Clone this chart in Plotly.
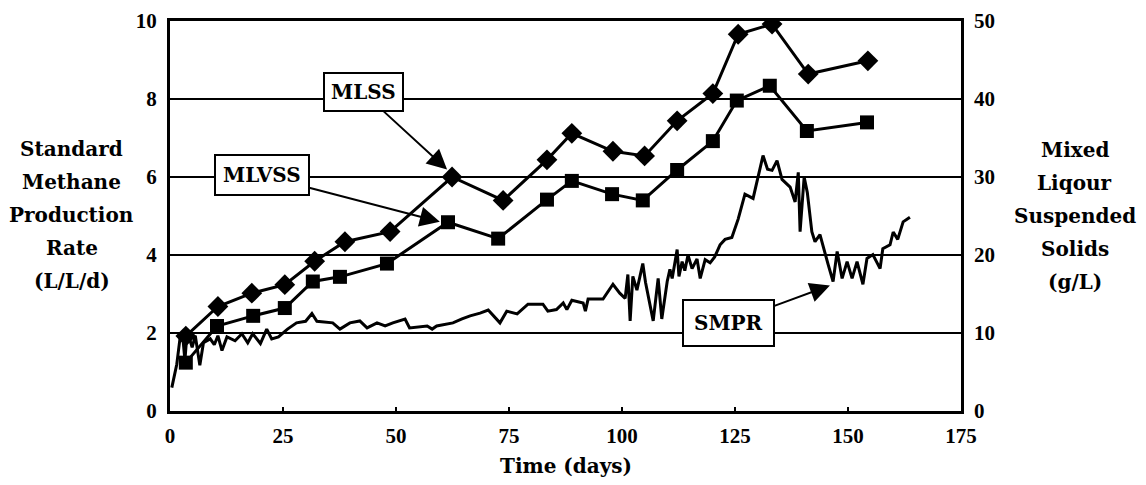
import plotly.graph_objects as go

# ---- data ----
mlss_days = [3.5, 10.6, 18.1, 25.4, 32.0, 38.7, 48.7, 62.4, 73.7, 83.4, 88.9, 98.0, 105.0, 112.2, 120.1, 125.7, 133.2, 141.2, 154.4]
mlss_gl = [9.6, 13.4, 15.1, 16.2, 19.2, 21.7, 23.0, 30.0, 27.0, 32.2, 35.6, 33.3, 32.7, 37.2, 40.7, 48.3, 49.6, 43.2, 44.9]

mlvss_days = [3.5, 10.4, 18.4, 25.4, 31.6, 37.6, 48.0, 61.5, 72.6, 83.4, 88.9, 97.8, 104.6, 112.2, 120.1, 125.4, 132.7, 140.9, 154.2]
mlvss_gl = [6.2, 10.9, 12.2, 13.2, 16.6, 17.2, 18.9, 24.2, 22.1, 27.1, 29.5, 27.8, 27.0, 30.9, 34.6, 39.8, 41.7, 35.9, 37.0]

smpr_days = [0.4, 1.5, 2.2, 2.8, 3.3, 3.8, 4.9, 5.6, 6.6, 7.4, 8.9, 9.8, 10.6, 11.5, 12.6, 14.4,
             15.9, 17.2, 18.3, 20.0, 21.4, 22.5, 24.0, 26.0, 28.0, 30.0, 31.4, 32.5, 36.0, 37.6,
             39.8, 42.0, 43.6, 45.8, 47.6, 49.3, 52.0, 53.0, 56.9, 58.0, 59.0, 62.6, 64.6, 66.4,
             68.6, 70.4, 73.0, 74.5, 76.8, 79.2, 82.5, 83.6, 85.5, 87.0, 87.8, 88.9, 91.4, 91.9,
             92.5, 95.8, 98.0, 99.5, 100.7, 101.3, 101.8, 102.4, 103.3, 104.6, 105.2, 106.9, 108.0,
             108.8, 110.0, 110.6, 111.1, 111.7, 112.2, 112.6, 113.3, 113.9, 114.6, 115.5, 116.6,
             117.3, 118.4, 119.5, 120.5, 121.7, 122.8, 124.3, 125.7, 127.2, 129.0, 131.2, 132.2,
             133.2, 134.3, 135.4, 137.2, 138.3, 139.0, 139.4, 140.3, 141.0, 142.0, 142.7, 143.8,
             145.6, 146.7, 147.6, 148.7, 149.8, 150.9, 152.0, 153.3, 154.2, 155.5, 157.1, 157.7,
             159.3, 160.0, 161.0, 162.2, 163.7]
smpr_vals = [0.6, 1.2, 1.85, 1.93, 1.3, 2.05, 1.63, 1.93, 1.17, 1.75, 1.85, 1.7, 1.93, 1.55, 1.9, 1.8,
             1.98, 1.75, 1.98, 1.73, 2.1, 1.85, 1.9, 2.1, 2.26, 2.3, 2.5, 2.3, 2.26, 2.1,
             2.26, 2.31, 2.13, 2.26, 2.18, 2.26, 2.36, 2.13, 2.18, 2.1, 2.18, 2.26, 2.36, 2.44,
             2.51, 2.59, 2.26, 2.56, 2.49, 2.74, 2.74, 2.56, 2.6, 2.77, 2.6, 2.84, 2.77, 2.56,
             2.87, 2.87, 3.25, 3.02, 2.89, 3.5, 2.31, 3.45, 3.1, 3.78, 3.3, 2.31, 3.4,
             2.36, 3.32, 3.63, 3.4, 3.78, 4.14, 3.45, 3.83, 3.6, 4.0, 3.65, 3.9,
             3.4, 3.88, 3.8, 3.95, 4.26, 4.4, 4.45, 4.92, 5.56, 5.45, 6.55, 6.2,
             6.17, 6.42, 5.94, 5.74, 5.36, 6.12, 4.6, 6.0, 5.6, 4.6, 4.34, 4.52,
             3.76, 3.32, 4.09, 3.4, 3.83, 3.4, 3.83, 3.25, 3.91, 4.01, 3.65, 4.16,
             4.26, 4.59, 4.4, 4.85, 4.97]

x_ticks = [0, 25, 50, 75, 100, 125, 150, 175]
y_left_ticks = [0, 2, 4, 6, 8, 10]
y_right_ticks = [0, 10, 20, 30, 40, 50]

left_title_lines = ["Standard", "Methane", "Production", "Rate", "(L/L/d)"]
right_title_lines = ["Mixed", "Liqour", "Suspended", "Solids", "(g/L)"]
x_title = "Time (days)"

TITLE_FONT = dict(family="DejaVu Serif", size=20, color="black", weight="bold")
TICK_FONT = dict(family="Liberation Serif", size=21, color="black", weight="bold")

fig = go.Figure()
fig.add_trace(go.Scatter(x=smpr_days, y=smpr_vals, mode="lines",
                         line=dict(color="black", width=3), yaxis="y", showlegend=False))
fig.add_trace(go.Scatter(x=mlss_days, y=mlss_gl, mode="lines+markers",
                         line=dict(color="black", width=3),
                         marker=dict(symbol="diamond", size=16, color="black"),
                         yaxis="y2", showlegend=False))
fig.add_trace(go.Scatter(x=mlvss_days, y=mlvss_gl, mode="lines+markers",
                         line=dict(color="black", width=3),
                         marker=dict(symbol="square", size=14, color="black"),
                         yaxis="y2", showlegend=False))

MT, MB = 13, 82
fig.update_layout(
    width=1146, height=485,
    margin=dict(l=162, r=193, t=MT, b=MB, autoexpand=False),
    paper_bgcolor="white", plot_bgcolor="white",
    xaxis=dict(range=[0, 175], tickvals=x_ticks, showgrid=False, zeroline=False,
               showline=True, linecolor="black", linewidth=3, mirror=True,
               ticks="inside", ticklen=4, tickwidth=1.5, tickcolor="black",
               tickfont=TICK_FONT, ticklabelstandoff=4, automargin=False,
               ticklabeloverflow="allow"),
    yaxis=dict(range=[0, 10], tickvals=y_left_ticks, showgrid=True, gridcolor="black",
               gridwidth=2, zeroline=False, showline=True, linecolor="black",
               linewidth=3, mirror=True, ticks="", tickfont=TICK_FONT,
               ticklabelstandoff=6, automargin=False, ticklabeloverflow="allow"),
    yaxis2=dict(range=[0, 50], tickvals=y_right_ticks, overlaying="y", side="right",
                showgrid=False, zeroline=False, showline=False, ticks="",
                tickfont=TICK_FONT, ticklabelstandoff=12, automargin=False,
                ticklabeloverflow="allow"),
)

annos = []
plot_h = 485 - MT - MB
for i, line in enumerate(left_title_lines):
    ypx = 149 + 33 * i - 8  # page px -> figure px
    annos.append(dict(text=line, x=-0.124, y=(plot_h + MT - ypx) / plot_h,
                      xref="paper", yref="paper", showarrow=False,
                      xanchor="center", yanchor="middle", font=TITLE_FONT))
for i, line in enumerate(right_title_lines):
    ypx = 150 + 33 * i - 8
    annos.append(dict(text=line, x=1.144, y=(plot_h + MT - ypx) / plot_h,
                      xref="paper", yref="paper", showarrow=False,
                      xanchor="center", yanchor="middle", font=TITLE_FONT))
annos.append(dict(text=x_title, x=0.5, y=-0.14, xref="paper", yref="paper", showarrow=False,
                  xanchor="center", yanchor="middle", font=TITLE_FONT))

callouts = [
    ("MLSS", 61.3, 6.19, 42.7, 8.17, 6),
    ("MLVSS", 59.7, 4.85, 20.4, 6.04, 7),
    ("SMPR", 146.0, 3.22, 123.5, 2.26, 10),
]
for txt, tx, ty, bx, by, pad in callouts:
    annos.append(dict(text=txt, x=tx, y=ty, xref="x", yref="y", ax=bx, ay=by,
                      axref="x", ayref="y", showarrow=True, arrowhead=2, arrowsize=2,
                      arrowwidth=2, arrowcolor="black", standoff=0,
                      bgcolor="white", bordercolor="black", borderwidth=2, borderpad=pad,
                      font=dict(family="DejaVu Serif", size=20, color="black", weight="bold")))
fig.update_layout(annotations=annos)

fig.write_html("out.html")
